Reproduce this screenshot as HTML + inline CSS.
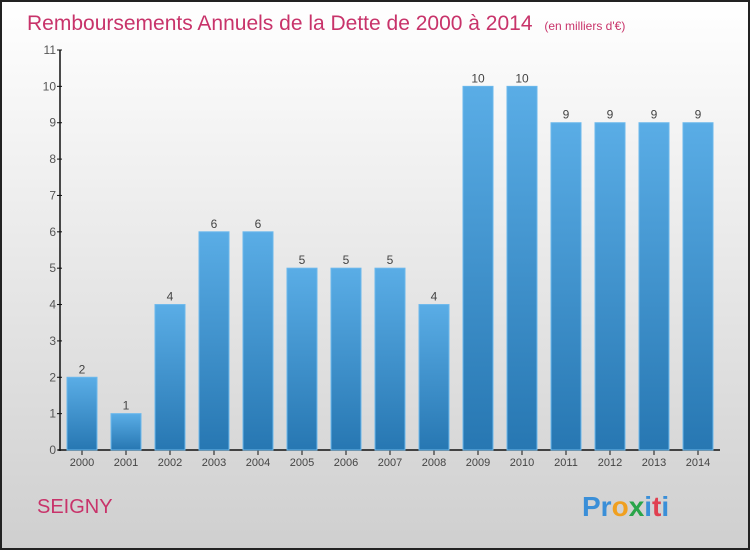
<!DOCTYPE html>
<html><head><meta charset="utf-8"><style>
body{margin:0;width:750px;height:550px;overflow:hidden;font-family:"Liberation Sans",sans-serif}
</style></head><body>
<svg width="750" height="550">
<defs>
<linearGradient id="bg" x1="0" y1="0" x2="0" y2="1"><stop offset="0" stop-color="#ffffff"/><stop offset="1" stop-color="#cfcfcf"/></linearGradient>
<linearGradient id="bar" x1="0" y1="0" x2="0" y2="1"><stop offset="0" stop-color="#5aade6"/><stop offset="1" stop-color="#2777b2"/></linearGradient>
</defs>
<rect x="1" y="1" width="748" height="548" fill="url(#bg)" stroke="#222" stroke-width="2"/>
<text x="27" y="30" font-size="21" fill="#c8336a">Remboursements Annuels de la Dette de 2000 à 2014 <tspan font-size="12" dx="6">(en milliers d'€)</tspan></text>
<g id="axes"></g>
<g id="bars"></g>
<text x="37" y="513" font-size="20" fill="#c8336a">SEIGNY</text>
<text x="582" y="516" font-size="28" font-weight="bold"><tspan fill="#3a8fd8">Pr</tspan><tspan fill="#f0a020">o</tspan><tspan fill="#2aa54a">x</tspan><tspan fill="#3a8fd8">i</tspan><tspan fill="#e04050">t</tspan><tspan fill="#3a8fd8">i</tspan></text>
</svg>
<script>
const categories=["2000","2001","2002","2003","2004","2005","2006","2007","2008","2009","2010","2011","2012","2013","2014"];
const values=[2,1,4,6,6,5,5,5,4,10,10,9,9,9,9];
const yTicks=[0,1,2,3,4,5,6,7,8,9,10,11];
const NS="http://www.w3.org/2000/svg";
const y=v=>450-v*(400/11);
const x=i=>82+i*44;
function mk(t,a,p,txt){const e=document.createElementNS(NS,t);for(const k in a)e.setAttribute(k,a[k]);if(txt!==undefined)e.textContent=txt;p.appendChild(e);return e;}
const ax=document.getElementById('axes'),bg=document.getElementById('bars');
let l=mk('line',{x1:60,y1:50,x2:60,y2:451,stroke:'#111','stroke-width':1.5},ax);


l=mk('line',{x1:58,y1:450,x2:720,y2:450,stroke:'#111','stroke-width':1.5},ax);


yTicks.forEach(v=>{
 mk('line',{x1:57,y1:y(v),x2:62,y2:y(v),stroke:'#111'},ax);
 const t=mk('text',{x:56,y:y(v)+4,'text-anchor':'end','font-size':12,fill:'#555'},ax,v);
 
 
});
categories.forEach((c,i)=>{
 mk('line',{x1:x(i),y1:450,x2:x(i),y2:455,stroke:'#111'},ax);
 const t=mk('text',{x:x(i),y:466,'text-anchor':'middle','font-size':11,fill:'#444'},ax,c);
 
 
 const r=mk('rect',{x:x(i)-15,y:y(values[i]),width:30,height:450-y(values[i]),fill:'url(#bar)',stroke:'#6bb8ec','stroke-width':1},bg);
 
 
 const vl=mk('text',{x:x(i),y:y(values[i])-4,'text-anchor':'middle','font-size':12,fill:'#444'},bg,values[i]);
 
 
});
</script>
</body></html>
